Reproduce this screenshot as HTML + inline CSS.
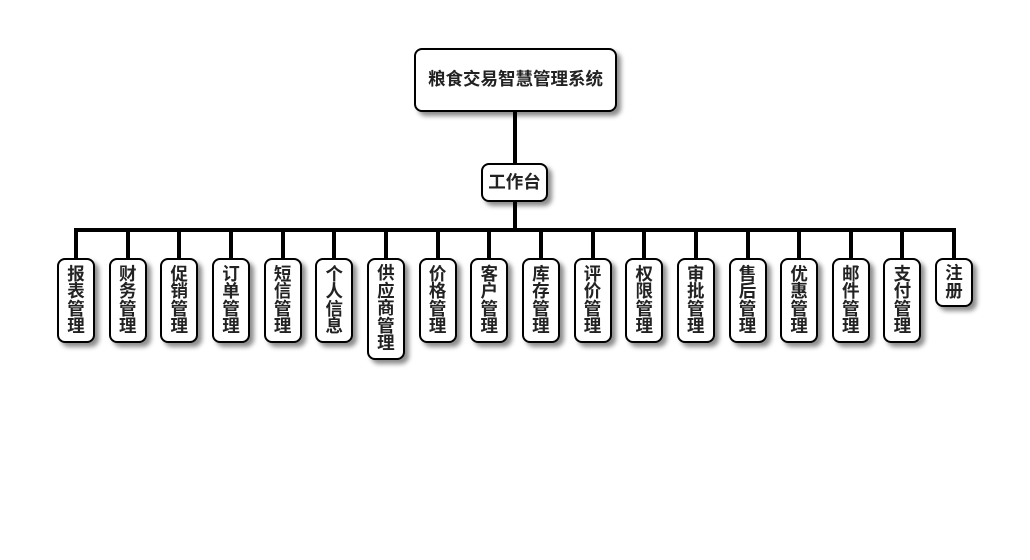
<!DOCTYPE html>
<html><head><meta charset="utf-8">
<style>
html,body{margin:0;padding:0;background:#fff;}
body{width:1030px;height:560px;position:relative;overflow:hidden;font-family:"Liberation Sans","Noto Sans CJK SC",sans-serif;}
.box{position:absolute;box-sizing:border-box;border:2px solid #000;border-radius:8px;background:#fff;box-shadow:4px 4px 5px rgba(0,0,0,0.45);display:flex;align-items:center;justify-content:center;text-align:center;font-weight:bold;color:#222;font-size:17.5px;line-height:17.5px;}
.ln{position:absolute;background:#000;}
.v{width:38px;top:258px;}
</style></head><body>
<div class="ln" style="left:513px;top:110px;width:4px;height:55px;"></div>
<div class="ln" style="left:513px;top:200px;width:4px;height:30px;"></div>
<div class="ln" style="left:74px;top:228px;width:882px;height:4px;"></div>

<div class="box" style="left:414px;top:48px;width:203px;height:64px;">粮食交易智慧管理系统</div>
<div class="box" style="left:481px;top:163px;width:67px;height:39px;">工作台</div>

<div class="ln" style="left:74px;top:230px;width:4px;height:30px;"></div>
<div class="ln" style="left:125.7px;top:230px;width:4px;height:30px;"></div>
<div class="ln" style="left:177.3px;top:230px;width:4px;height:30px;"></div>
<div class="ln" style="left:229px;top:230px;width:4px;height:30px;"></div>
<div class="ln" style="left:280.6px;top:230px;width:4px;height:30px;"></div>
<div class="ln" style="left:332.3px;top:230px;width:4px;height:30px;"></div>
<div class="ln" style="left:383.9px;top:230px;width:4px;height:30px;"></div>
<div class="ln" style="left:435.6px;top:230px;width:4px;height:30px;"></div>
<div class="ln" style="left:487.2px;top:230px;width:4px;height:30px;"></div>
<div class="ln" style="left:538.9px;top:230px;width:4px;height:30px;"></div>
<div class="ln" style="left:590.5px;top:230px;width:4px;height:30px;"></div>
<div class="ln" style="left:642.2px;top:230px;width:4px;height:30px;"></div>
<div class="ln" style="left:693.8px;top:230px;width:4px;height:30px;"></div>
<div class="ln" style="left:745.5px;top:230px;width:4px;height:30px;"></div>
<div class="ln" style="left:797.1px;top:230px;width:4px;height:30px;"></div>
<div class="ln" style="left:848.8px;top:230px;width:4px;height:30px;"></div>
<div class="ln" style="left:900.4px;top:230px;width:4px;height:30px;"></div>
<div class="ln" style="left:952px;top:230px;width:4px;height:30px;"></div>

<div class="box v" style="left:57px;height:85px;">报<br>表<br>管<br>理</div>
<div class="box v" style="left:108.7px;height:85px;">财<br>务<br>管<br>理</div>
<div class="box v" style="left:160.3px;height:85px;">促<br>销<br>管<br>理</div>
<div class="box v" style="left:212px;height:85px;">订<br>单<br>管<br>理</div>
<div class="box v" style="left:263.6px;height:85px;">短<br>信<br>管<br>理</div>
<div class="box v" style="left:315.3px;height:85px;">个<br>人<br>信<br>息</div>
<div class="box v" style="left:366.9px;height:102px;">供<br>应<br>商<br>管<br>理</div>
<div class="box v" style="left:418.6px;height:85px;">价<br>格<br>管<br>理</div>
<div class="box v" style="left:470.2px;height:85px;">客<br>户<br>管<br>理</div>
<div class="box v" style="left:521.9px;height:85px;">库<br>存<br>管<br>理</div>
<div class="box v" style="left:573.5px;height:85px;">评<br>价<br>管<br>理</div>
<div class="box v" style="left:625.2px;height:85px;">权<br>限<br>管<br>理</div>
<div class="box v" style="left:676.8px;height:85px;">审<br>批<br>管<br>理</div>
<div class="box v" style="left:728.5px;height:85px;">售<br>后<br>管<br>理</div>
<div class="box v" style="left:780.1px;height:85px;">优<br>惠<br>管<br>理</div>
<div class="box v" style="left:831.8px;height:85px;">邮<br>件<br>管<br>理</div>
<div class="box v" style="left:883.4px;height:85px;">支<br>付<br>管<br>理</div>
<div class="box v" style="left:935px;height:49px;">注<br>册</div>
</body></html>
